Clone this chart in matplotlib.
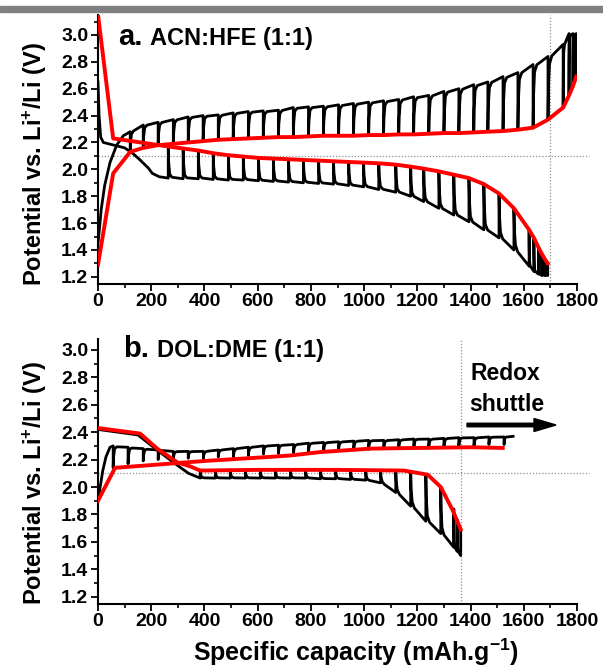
import numpy as np
import matplotlib
matplotlib.use("Agg")
import matplotlib.pyplot as plt
from matplotlib.ticker import MultipleLocator

plt.rcParams['font.family'] = ['Liberation Sans', 'DejaVu Sans']
plt.rcParams['font.weight'] = 'bold'
plt.rcParams['mathtext.fontset'] = 'custom'
plt.rcParams['mathtext.rm'] = 'Liberation Sans:bold'
plt.rcParams['mathtext.bf'] = 'Liberation Sans:bold'
plt.rcParams['mathtext.default'] = 'bf'

# ---- panel a : ACN:HFE (1:1) ----
a_dis_first_cap = [0, 4, 10, 20, 60, 100, 130, 158, 189, 204, 230, 264]
a_dis_first_v = [2.65, 2.40, 2.24, 2.20, 2.18, 2.16, 2.12, 2.07, 2.01, 1.97, 1.945, 1.935]
a_dis_step_cap = [264, 320, 377, 433, 490, 546, 603, 659, 716, 772, 829, 885, 942, 998, 1055,
                  1119, 1175, 1224, 1281, 1337, 1394, 1450, 1507, 1563, 1620, 1638, 1655, 1668, 1680, 1690]
a_dis_tip_v = [1.935, 1.93, 1.93, 1.925, 1.92, 1.92, 1.915, 1.91, 1.905, 1.90, 1.895, 1.89, 1.88, 1.87, 1.85,
               1.83, 1.80, 1.76, 1.71, 1.66, 1.61, 1.55, 1.49, 1.40, 1.28, 1.24, 1.22, 1.21, 1.21, 1.21]
a_dis_rest_v = [2.17, 2.155, 2.14, 2.12, 2.105, 2.095, 2.085, 2.08, 2.075, 2.07, 2.065, 2.06, 2.055, 2.05, 2.045,
                2.035, 2.02, 2.005, 1.985, 1.96, 1.935, 1.89, 1.82, 1.71, 1.55, 1.49, 1.42, 1.37, 1.33, 1.30]

a_chg_first_cap = [0, 5, 12, 25, 45, 70, 95, 121]
a_chg_first_v = [1.45, 1.55, 1.70, 1.88, 2.05, 2.18, 2.25, 2.28]
a_chg_step_cap = [121, 170, 226, 283, 339, 395, 452, 508, 565, 621, 678, 734, 791, 847, 904, 960, 1017,
                  1073, 1130, 1186, 1243, 1300, 1356, 1412, 1465, 1522, 1578, 1635, 1691, 1748, 1770, 1785, 1797]
a_chg_tip_v = [2.28, 2.33, 2.35, 2.37, 2.39, 2.40, 2.405, 2.42, 2.43, 2.435, 2.44, 2.46, 2.465, 2.47, 2.48, 2.49, 2.50,
               2.51, 2.52, 2.54, 2.55, 2.58, 2.60, 2.63, 2.65, 2.69, 2.72, 2.78, 2.84, 2.93, 3.01, 3.01, 3.01]
a_chg_rest_v = [2.13, 2.16, 2.18, 2.19, 2.20, 2.21, 2.22, 2.225, 2.23, 2.235, 2.24, 2.24, 2.245, 2.25, 2.25, 2.25, 2.255,
                2.255, 2.26, 2.26, 2.265, 2.27, 2.27, 2.275, 2.28, 2.285, 2.295, 2.31, 2.37, 2.46, 2.55, 2.62, 2.69]

a_red_dis_cap = [0, 57] + a_dis_step_cap
a_red_dis_v = [3.15, 2.23] + a_dis_rest_v
a_red_chg_cap = [0, 57] + a_chg_step_cap
a_red_chg_v = [1.29, 1.97] + a_chg_rest_v

# ---- panel b : DOL:DME (1:1) ----
b_dis_first_cap = [0, 150, 222, 290, 340, 384]
b_dis_first_v = [2.42, 2.38, 2.27, 2.17, 2.10, 2.065]
b_dis_step_cap = [384, 441, 497, 554, 610, 667, 723, 780, 836, 893, 949, 1006, 1062, 1119, 1175,
                  1232, 1288, 1337, 1350, 1363]
b_dis_tip_v = [2.065, 2.065, 2.065, 2.065, 2.065, 2.065, 2.065, 2.065, 2.06, 2.06, 2.055, 2.05, 2.03, 1.96, 1.86,
               1.75, 1.66, 1.56, 1.53, 1.50]
b_dis_rest_v = [2.12, 2.12, 2.125, 2.125, 2.125, 2.125, 2.125, 2.125, 2.125, 2.125, 2.125, 2.12, 2.12, 2.12, 2.11,
                2.09, 2.00, 1.84, 1.76, 1.69]

b_chg_first_cap = [0, 8, 18, 30, 45, 57]
b_chg_first_v = [1.90, 2.00, 2.12, 2.22, 2.29, 2.30]
b_chg_step_cap = [57, 113, 170, 226, 283, 339, 396, 452, 509, 565, 622, 678, 735, 791, 848, 904, 961, 1017,
                  1074, 1130, 1187, 1243, 1300, 1356, 1413, 1469, 1526, 1560]
b_chg_tip_v = [2.30, 2.29, 2.28, 2.27, 2.26, 2.26, 2.26, 2.27, 2.28, 2.29, 2.30, 2.305, 2.31, 2.32, 2.325, 2.33, 2.335,
               2.34, 2.34, 2.345, 2.35, 2.35, 2.355, 2.36, 2.36, 2.365, 2.365, 2.37]
b_chg_rest_v = [2.14, 2.17, 2.19, 2.20, 2.20, 2.21, 2.21, 2.22, 2.22, 2.23, 2.24, 2.245, 2.25, 2.255, 2.26, 2.265,
                2.27, 2.275, 2.28, 2.28, 2.285, 2.29, 2.29, 2.30, 2.30, 2.31, 2.31, np.nan]

b_red_dis_cap = [0, 158, 170, 222, 298, 347, 384, 600, 900, 1149, 1239, 1288, 1333, 1363]
b_red_dis_v = [2.43, 2.39, 2.37, 2.28, 2.18, 2.15, 2.12, 2.125, 2.125, 2.12, 2.09, 2.00, 1.83, 1.69]
b_red_chg_cap = [0, 64, 200, 400, 648, 723, 836, 1024, 1200, 1401, 1521]
b_red_chg_v = [1.90, 2.14, 2.16, 2.19, 2.22, 2.23, 2.255, 2.28, 2.285, 2.29, 2.285]


def gitt_trace(first_cap, first_v, step_cap, tip_v, rest_v):
    # pulse + relaxation sawtooth built from the read step values
    xs = list(first_cap)
    ys = list(first_v)
    for i in range(len(step_cap)):
        if i > 0:
            c0, c1 = step_cap[i - 1], step_cap[i]
            r0, t0, t1 = rest_v[i - 1], tip_v[i - 1], tip_v[i]
            dc = c1 - c0
            xs += [c0 + 0.03 * dc, c0 + 0.10 * dc, c0 + 0.25 * dc, c1]
            ys += [t0 + 0.5 * (r0 - t0), t0 + 0.12 * (r0 - t0),
                   t0 + 0.2 * (t1 - t0) + 0.03 * (r0 - t0), t1]
        if not np.isnan(rest_v[i]):
            xs.append(step_cap[i])
            ys.append(rest_v[i])
    return xs, ys


fig = plt.figure(figsize=(6.03, 6.69), dpi=100)
fig.patches.append(plt.Rectangle((0, 1 - 12 / 669), 1, 6.5 / 669, transform=fig.transFigure,
                                 color='#808080', zorder=0))

ax_a = fig.add_axes([98 / 603, 0.5761, 479 / 603, 0.4018])
ax_b = fig.add_axes([98 / 603, 0.0979, 479 / 603, 0.3954])

for ax in (ax_a, ax_b):
    ax.set_xlim(0, 1800)
    ax.spines['top'].set_visible(False)
    ax.spines['right'].set_visible(False)
    ax.spines['left'].set_linewidth(1.5)
    ax.spines['bottom'].set_linewidth(1.5)
    ax.xaxis.set_major_locator(MultipleLocator(200))
    ax.xaxis.set_minor_locator(MultipleLocator(100))
    ax.yaxis.set_major_locator(MultipleLocator(0.2))
    ax.yaxis.set_minor_locator(MultipleLocator(0.1))
    ax.tick_params(which='major', direction='out', length=5, width=1.3, labelsize=14, pad=2)
    ax.tick_params(which='minor', direction='out', length=3, width=1.2)
    ax.yaxis.set_major_formatter(matplotlib.ticker.FormatStrFormatter('%.1f'))
    for lab in ax.get_xticklabels() + ax.get_yticklabels():
        lab.set_fontweight('bold')

ax_a.set_ylim(1.15, 3.15)
ax_b.set_ylim(1.15, 3.08)

dot = dict(color='#909090', lw=0.9, ls=(0, (1, 1.5)), clip_on=False, zorder=1)
ax_a.plot([0, 1845], [2.1, 2.1], **dot)
ax_a.plot([1700, 1700], [1.15, 3.15], **dot)
ax_b.plot([0, 1845], [2.1, 2.1], **dot)
ax_b.plot([1365, 1365], [1.15, 3.08], **dot)

for ax, series in (
        (ax_a, [(a_dis_first_cap, a_dis_first_v, a_dis_step_cap, a_dis_tip_v, a_dis_rest_v),
                (a_chg_first_cap, a_chg_first_v, a_chg_step_cap, a_chg_tip_v, a_chg_rest_v)]),
        (ax_b, [(b_dis_first_cap, b_dis_first_v, b_dis_step_cap, b_dis_tip_v, b_dis_rest_v),
                (b_chg_first_cap, b_chg_first_v, b_chg_step_cap, b_chg_tip_v, b_chg_rest_v)])):
    for s in series:
        xs, ys = gitt_trace(*s)
        ax.plot(xs, ys, color='black', lw=2.0, solid_joinstyle='round', zorder=2)

ax_a.plot(a_red_dis_cap, a_red_dis_v, color='#ff0000', lw=2.8, zorder=3)
ax_a.plot(a_red_chg_cap, a_red_chg_v, color='#ff0000', lw=2.8, zorder=3)
ax_b.plot(b_red_dis_cap, b_red_dis_v, color='#ff0000', lw=2.8, zorder=3)
ax_b.plot(b_red_chg_cap, b_red_chg_v, color='#ff0000', lw=2.8, zorder=3)

# panel titles
fig.text(118 / 603, 1 - 45 / 669, 'a.', fontsize=21, fontweight='bold', va='baseline')
fig.text(150 / 603, 1 - 45 / 669, 'ACN:HFE (1:1)', fontsize=17, fontweight='bold', va='baseline')
fig.text(123 / 603, 1 - 357 / 669, 'b.', fontsize=21, fontweight='bold', va='baseline')
fig.text(157 / 603, 1 - 357 / 669, 'DOL:DME (1:1)', fontsize=17, fontweight='bold', va='baseline')

fig.text(470 / 603, 1 - 380 / 669, 'Redox', fontsize=16.5, fontweight='bold', va='baseline')
fig.text(469 / 603, 1 - 411 / 669, 'shuttle', fontsize=16.5, fontweight='bold', va='baseline')
fig.patches.append(matplotlib.patches.FancyArrow(467 / 603, 1 - 425 / 669, 89 / 603, 0,
                                                 width=3.5 / 669, head_width=13 / 669,
                                                 head_length=22 / 603, length_includes_head=True,
                                                 color='black', transform=fig.transFigure))

ylab = 'Potential vs. Li$^{+}$/Li (V)'
fig.text(35 / 603, 1 - 164 / 669, ylab, rotation=90, fontsize=17, fontweight='bold',
         ha='center', va='center')
fig.text(35 / 603, 1 - 483 / 669, ylab, rotation=90, fontsize=17, fontweight='bold',
         ha='center', va='center')
fig.text(356 / 603, 1 - 661 / 669, 'Specific capacity (mAh.g$^{-1}$)', fontsize=18,
         fontweight='bold', ha='center', va='baseline')

fig.savefig('out.png', dpi=100)
